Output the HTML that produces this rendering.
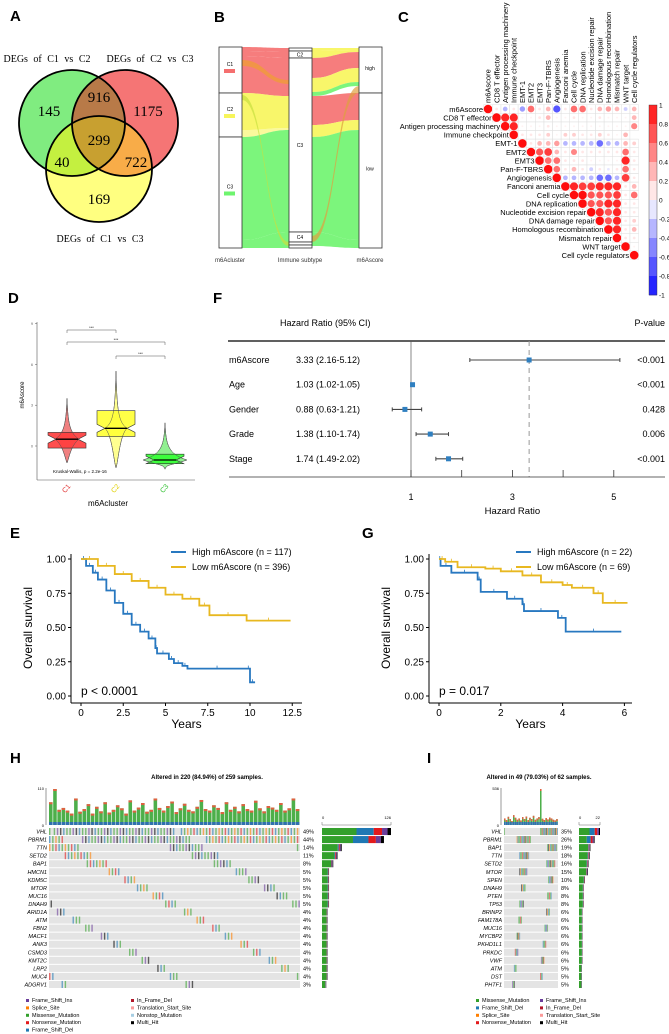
<!DOCTYPE html>
<html><head><meta charset="utf-8"><style>
html,body{margin:0;padding:0;background:#fff}
svg{display:block;font-family:"Liberation Sans",sans-serif}
</style></head><body>
<svg id="s" width="669" height="1034" viewBox="0 0 669 1034">
<defs>
<clipPath id="cpG"><circle cx="72" cy="123" r="53"/></clipPath>
<clipPath id="cpR"><circle cx="125" cy="123" r="53"/></clipPath>
</defs>
<g font-weight="bold" font-size="15">
<text x="10" y="21">A</text><text x="214" y="22">B</text><text x="398" y="22">C</text>
<text x="8" y="303">D</text><text x="213" y="303">F</text><text x="10" y="538">E</text>
<text x="362" y="538">G</text><text x="10" y="763">H</text><text x="427" y="763">I</text>
</g>
<g id="venn"></g>
<g id="alluvial"></g>
<g id="corr"></g>
<g id="violin"></g>
<g id="forest"></g>
<g id="kmE"></g>
<g id="kmG"></g>
<g id="oncoH"></g>
<g id="oncoI"></g>
</svg>
<script>
const vennCounts=[145,916,1175,299,40,722,169];
const corrLabels=["m6Ascore","CD8 T effector","Antigen processing machinery","Immune checkpoint","EMT-1","EMT2","EMT3","Pan-F-TBRS","Angiogenesis","Fanconi anemia","Cell cycle","DNA replication","Nucleotide excision repair","DNA damage repair","Homologous recombination","Mismatch repair","WNT target","Cell cycle regulators"];
const corrRows=[
[1,.1,-.3,.1,-.4,.6,.1,.3,-.7,.1,.6,.6,.1,.3,.4,.3,-.2,.3],
[1,.9,.9,.05,.05,.1,.3,.05,.05,.1,.05,.05,.1,.05,.05,.05,.3],
[1,.9,.05,.05,.05,.1,.05,.05,.05,.05,.05,.05,.05,.05,.05,.5],
[1,.1,.1,.1,.2,.05,.2,.2,.1,.1,.2,.1,.05,.3],
[1,.1,.3,.3,.4,-.3,-.3,-.3,-.3,-.6,-.3,-.3,.3,.2],
[1,.7,.8,.3,.1,.5,.1,.1,.1,.1,.1,.6,.1],
[1,.6,.6,.1,.1,.1,.05,.05,.05,.05,.9,.1],
[1,.6,.1,.3,.1,-.2,.1,-.1,.1,.6,.1],
[1,-.3,-.3,-.3,-.3,-.6,-.6,-.3,.8,.1],
[1,.9,.8,.8,.9,.9,.9,.1,.3],
[1,1,.7,.7,.7,.8,.1,.6],
[1,.7,.7,.9,.9,.1,.1],
[1,.9,.7,.9,.1,.1],
[1,.7,.9,.1,.2],
[1,.9,.1,.3],
[1,.1,.1],
[1,.05],
[1]];
const colorbarTicks=[1,0.8,0.6,0.4,0.2,0,-0.2,-0.4,-0.6,-0.8,-1];
const violinGroups=["C1","C2","C3"];
const violinMedian=[0.5,1.3,-1.03];
const violinQ1=[-0.15,0.7,-1.3];
const violinQ3=[1.0,2.6,-0.6];
const violinMax=[3.5,5.5,1.7];
const violinMin=[-1.25,-1.6,-1.7];
const forestVars=["m6Ascore","Age","Gender","Grade","Stage"];
const forestHR=[3.33,1.03,0.88,1.38,1.74];
const forestLo=[2.16,1.02,0.63,1.10,1.49];
const forestHi=[5.12,1.05,1.21,1.74,2.02];
const forestP=["<0.001","<0.001","0.428","0.006","<0.001"];
const forestTicks=[1,2,3,4,5];
const forestTickLabels=[1,3,5];
const kmEHighT=[0,0.3,0.7,1,1.5,2,2.5,3,3.5,4,4.4,4.5,5.2,5.5,6,6.3,9.8,10,10.3];
const kmEHighS=[1,.95,.9,.85,.77,.68,.6,.52,.47,.42,.35,.31,.27,.24,.22,.2,.2,.1,.1];
const kmELowT=[0,1,2,3,4,5,6,7,7.6,9.8,12.4];
const kmELowS=[1,.95,.89,.84,.79,.74,.71,.66,.59,.55,.55];
const kmGHighT=[0,0.05,0.4,1.25,1.35,2.2,2.7,2.75,3.85,4.1,5.9];
const kmGHighS=[1,.95,.9,.85,.76,.71,.67,.62,.57,.47,.47];
const kmGLowT=[0,0.2,0.6,1.5,2,2.7,3.3,4,4.3,5,5.3,6.1];
const kmGLowS=[1,.98,.94,.93,.91,.88,.83,.81,.79,.75,.68,.68];
const kmYTicks=[0,0.25,0.5,0.75,1];
const kmEXTicks=[0,2.5,5,7.5,10,12.5];
const kmGXTicks=[0,2,4,6];
const genesH=["VHL","PBRM1","TTN","SETD2","BAP1","HMCN1","KDM5C","MTOR","MUC16","DNAH9","ARID1A","ATM","FBN2","MACF1","ANK3","CSMD3","KMT2C","LRP2","MUC4","ADGRV1"];
const pctH=[49,44,14,11,8,5,5,5,5,5,4,4,4,4,4,4,4,4,4,3];
const genesI=["VHL","PBRM1","BAP1","TTN","SETD2","MTOR","SPEN","DNAH9","PTEN","TP53","BRINP2","FAM178A","MUC16","MYCBP2","PKHD1L1","PRKDC","VWF","ATM","DST","PHTF1"];
const pctI=[35,26,19,18,16,15,10,8,8,8,6,6,6,6,6,6,6,5,5,5];
const tmbH=[60,95,40,45,38,30,70,35,42,55,30,48,36,60,33,40,52,44,30,65,38,46,58,35,40,70,45,38,50,62,34,44,56,40,36,48,66,42,38,52,45,34,60,40,48,36,55,42,38,64,44,36,50,46,40,58,38,44,70,42];
const tmbI=[20,15,25,18,12,30,22,16,20,14,24,18,26,15,22,18,28,16,20,24,110,19,15,21,17,23,20,16,14,18];
</script>
<script>
const NS="http://www.w3.org/2000/svg";
function mk(p,t,a,txt){const e=document.createElementNS(NS,t);for(const k in a)e.setAttribute(k,a[k]);if(txt!==undefined)e.textContent=txt;p.appendChild(e);return e;}
const $=id=>document.getElementById(id);

// ---- A Venn
(function(){const g=$('venn');const r=53;
const G=[72,123],R=[125,123],Y=[99,169];
function circ(p,c,fill,extra){const e=mk(p,'circle',Object.assign({cx:c[0],cy:c[1],r:r,fill:fill},extra||{}));return e;}
circ(g,G,'#80ec80');circ(g,R,'#f57575');circ(g,Y,'#ffff80');
circ(g,R,'#b87a48',{'clip-path':'url(#cpG)'});
circ(g,Y,'#c4f040',{'clip-path':'url(#cpG)'});
circ(g,Y,'#f8ac48',{'clip-path':'url(#cpR)'});
const gg=mk(g,'g',{'clip-path':'url(#cpG)'});circ(gg,Y,'#c8a030',{'clip-path':'url(#cpR)'});
[G,R,Y].forEach(c=>{const e=mk(g,'circle',{cx:c[0],cy:c[1],r:r,fill:'none',stroke:'#000','stroke-width':1.8});});
const pos=[[49,116],[99,102],[148,116],[99,145],[62,167],[136,167],[99,204]];
vennCounts.forEach((v,i)=>{const t=mk(g,'text',{x:pos[i][0],y:pos[i][1],'text-anchor':'middle','font-size':15,'font-family':'Liberation Serif,serif'},v);});
[['DEGs of C1 vs C2',47,62],['DEGs of C2 vs C3',150,62],['DEGs of C1 vs C3',100,242]].forEach(d=>{const t=mk(g,'text',{x:d[1],y:d[2],'text-anchor':'middle','font-size':10,'font-family':'Liberation Serif,serif','word-spacing':'3'},d[0]);});
})();

// ---- B alluvial
(function(){const g=$('alluvial');
function band(x1,a1,b1,x2,a2,b2,col,op){const m=(x1+x2)/2;
const e=mk(g,'path',{d:`M${x1},${a1}C${m},${a1} ${m},${a2} ${x2},${a2}L${x2},${b2}C${m},${b2} ${m},${b1} ${x1},${b1}Z`,fill:col,'fill-opacity':op||0.9});
}
const R='#f56f6f',Y='#f7f55a',G='#6ef46e';
band(242,47,52,289,48,51,R);band(242,52,56,289,51,58,R);
band(242,56,93,289,58,96,R);band(242,93,130,289,96,128,Y);
band(242,130,137,289,128,130,Y,0.6);band(242,137,240,289,130,232,G);
band(242,240,248,289,232,248,G);
band(242,60,66,289,80,84,'#f0a030',0.7);band(242,95,100,289,242,246,'#c8e040',0.7);
band(312,48,51,359,48,50,Y);band(312,51,58,359,50,52,Y);
band(312,58,78,359,52,68,R);band(312,78,92,359,68,82,Y);band(312,92,96,359,82,86,G);
band(312,96,125,359,93,120,R);band(312,125,137,359,120,130,Y);
band(312,137,232,359,130,240,G);band(312,232,246,359,240,248,G);
band(312,236,242,359,86,93,'#e0a040',0.7);
[[219,47,93,'C1',R],[219,93,137,'C2',Y],[219,137,248,'C3',G]].forEach(b=>{
const r=mk(g,'rect',{x:b[0],y:b[1],width:23,height:b[2]-b[1],fill:'#fff',stroke:'#333','stroke-width':0.8});
mk(g,'text',{x:230,y:(b[1]+b[2])/2-4,'font-size':5,'text-anchor':'middle'},b[3]);
mk(g,'rect',{x:224,y:(b[1]+b[2])/2-1,width:11,height:4,fill:b[4]});});
[[48,51,'C1'],[51,58,'C2'],[58,232,'C3'],[232,242,'C4'],[242,245,'C6'],[245,248,'C5']].forEach(b=>{
const r=mk(g,'rect',{x:289,y:b[0],width:23,height:b[1]-b[0],fill:'#fff',stroke:'#333','stroke-width':0.8});
if(b[1]-b[0]>3)mk(g,'text',{x:300,y:(b[0]+b[1])/2+2,'font-size':5,'text-anchor':'middle'},b[2]);});
[[47,93,'high'],[93,248,'low']].forEach(b=>{const r=mk(g,'rect',{x:359,y:b[0],width:23,height:b[1]-b[0],fill:'#fff',stroke:'#333','stroke-width':0.8});
mk(g,'text',{x:370,y:(b[0]+b[1])/2,'font-size':5,'text-anchor':'middle'},b[2]);});
[['m6Acluster',230],['Immune  subtype',300],['m6Ascore',370]].forEach(d=>{const t=mk(g,'text',{x:d[1],y:262,'font-size':6,'text-anchor':'middle',fill:'#333'},d[0]);});
})();

// ---- C correlation
(function(){const g=$('corr');const x0=488,y0=109,st=8.6;
function col(r){const a=Math.abs(r);if(r>=0)return `rgb(255,${Math.round(255*(1-a*0.95))},${Math.round(255*(1-a*0.95))})`;return `rgb(${Math.round(255*(1-a*0.95))},${Math.round(255*(1-a*0.95))},255)`;}
corrRows.forEach((row,i)=>{row.forEach((v,k)=>{const j=i+k;const cx=x0+j*st,cy=y0+i*st;
mk(g,'rect',{x:cx-st/2,y:cy-st/2,width:st,height:st,fill:'none',stroke:'#e2e2e2','stroke-width':0.5});
const c=mk(g,'circle',{cx:cx,cy:cy,r:Math.max(0.6,Math.sqrt(Math.abs(v))*4.3),fill:col(v)});
});
const t=mk(g,'text',{x:x0+i*st-5,y:y0+i*st+2.8,'text-anchor':'end','font-size':7.5},corrLabels[i]);
const c=mk(g,'text',{transform:`translate(${x0+i*st+2.7},${y0-6}) rotate(-90)`,'font-size':7.5},corrLabels[i]);});
const cb0=105,cb1=295;
for(let k=0;k<10;k++){const v=1-(k+0.5)*0.2;mk(g,'rect',{x:649,y:cb0+k*(cb1-cb0)/10,width:8,height:(cb1-cb0)/10+0.3,fill:col(v)});}
mk(g,'rect',{x:649,y:cb0,width:8,height:cb1-cb0,fill:'none',stroke:'#333','stroke-width':0.4});
colorbarTicks.forEach(v=>{const y=cb0+(1-v)/2*(cb1-cb0);const t=mk(g,'text',{x:659,y:y+2.5,'font-size':6.5},v);});
})();

// ---- D violin
(function(){const g=$('violin');const ys=v=>446-v*13.6;const xs=i=>67+i*49;
const fills=['#ff3b3b','#ffff33','#33ff33'],vf=['#f08080','#ffff90','#90f090'];
mk(g,'line',{x1:37,y1:322,x2:37,y2:480,stroke:'#555','stroke-width':0.6});
mk(g,'line',{x1:37,y1:480,x2:195,y2:480,stroke:'#555','stroke-width':0.6});
[0,3,6,9].forEach(v=>{mk(g,'line',{x1:35,y1:ys(v),x2:37,y2:ys(v),stroke:'#555','stroke-width':0.5});mk(g,'text',{x:33,y:ys(v)+1.5,'font-size':3.5,'text-anchor':'end',fill:'#555'},v);});
const yl=mk(g,'text',{transform:'translate(24,395) rotate(-90)','font-size':6,'text-anchor':'middle'},'m6Ascore');
violinGroups.forEach((gn,i)=>{const x=xs(i),mx=ys(violinMax[i]),mn=ys(violinMin[i]),md=ys(violinMedian[i]);
const w=[12,11,22][i];
const d=`M${x},${mx} C${x+1},${md-15} ${x+3},${md-6} ${x+w},${md} C${x+4},${md+6} ${x+2},${mn-5} ${x},${mn} C${x-2},${mn-5} ${x-4},${md+6} ${x-w},${md} C${x-3},${md-6} ${x-1},${md-15} ${x},${mx}Z`;
const v=mk(g,'path',{d:d,fill:vf[i],stroke:'#555','stroke-width':0.5});
const q1=ys(violinQ1[i]),q3=ys(violinQ3[i]);const hw=19,nw=11,nh=Math.min(4,(q1-q3)/2.5);
const b=mk(g,'path',{d:`M${x-hw},${q3}H${x+hw}V${md-nh}L${x+nw},${md}L${x+hw},${md+nh}V${q1}H${x-hw}V${md+nh}L${x-nw},${md}L${x-hw},${md-nh}Z`,fill:fills[i],stroke:'#333','stroke-width':0.6,'fill-opacity':0.9});
mk(g,'path',{d:d,fill:'none',stroke:'#555','stroke-width':0.5});
mk(g,'line',{x1:x-nw,y1:md,x2:x+nw,y2:md,stroke:'#000','stroke-width':1.3});
const t=mk(g,'text',{transform:`translate(${x+1},${490}) rotate(-50)`,'font-size':7,'text-anchor':'middle',fill:['#e03030','#e0d000','#30c030'][i]},gn);});
[[0,1,330],[0,2,342],[1,2,356]].forEach(b=>{mk(g,'path',{d:`M${xs(b[0])},${b[2]+3}V${b[2]}H${xs(b[1])}V${b[2]+3}`,fill:'none',stroke:'#555','stroke-width':0.5});mk(g,'text',{x:(xs(b[0])+xs(b[1]))/2,y:b[2]-1,'font-size':4,'text-anchor':'middle'},'***');});
mk(g,'text',{x:53,y:473,'font-size':4.5},'Kruskal-Wallis, p = 2.2e-16');
const xl=mk(g,'text',{x:108,y:506,'font-size':8,'text-anchor':'middle'},'m6Acluster');
})();

// ---- F forest
(function(){const g=$('forest');const xs=v=>411+(v-1)*50.7;const ry=i=>360+i*24.7;
mk(g,'text',{x:280,y:326,'font-size':9},'Hazard Ratio (95% CI)');mk(g,'text',{x:665,y:326,'font-size':9,'text-anchor':'end'},'P-value');
mk(g,'line',{x1:228,y1:341,x2:665,y2:341,stroke:'#000','stroke-width':1.2});
mk(g,'line',{x1:xs(1),y1:341,x2:xs(1),y2:477,stroke:'#555','stroke-width':0.7});
mk(g,'line',{x1:xs(forestHR[0]),y1:341,x2:xs(forestHR[0]),y2:477,stroke:'#999','stroke-width':1,'stroke-dasharray':'5,4'});
mk(g,'line',{x1:229,y1:477,x2:665,y2:477,stroke:'#333','stroke-width':0.8});
forestTicks.forEach(v=>{mk(g,'line',{x1:xs(v),y1:470,x2:xs(v),y2:477,stroke:'#333','stroke-width':0.8});});
forestTickLabels.forEach(v=>{const t=mk(g,'text',{x:xs(v),y:500,'font-size':9,'text-anchor':'middle'},v);});
const xt=mk(g,'text',{x:xs(3),y:514,'font-size':9.5,'text-anchor':'middle'},'Hazard Ratio');
forestVars.forEach((v,i)=>{const y=ry(i);
mk(g,'text',{x:229,y:y+3,'font-size':9},v);
mk(g,'text',{x:296,y:y+3,'font-size':9},`${forestHR[i].toFixed(2)} (${forestLo[i].toFixed(2)}-${forestHi[i].toFixed(2)})`);
mk(g,'text',{x:665,y:y+3,'font-size':9,'text-anchor':'end'},forestP[i]);
const l=mk(g,'line',{x1:xs(forestLo[i]),y1:y,x2:xs(forestHi[i]),y2:y,stroke:'#444','stroke-width':1.1});
mk(g,'line',{x1:xs(forestLo[i]),y1:y-2,x2:xs(forestLo[i]),y2:y+2,stroke:'#444','stroke-width':1});
mk(g,'line',{x1:xs(forestHi[i]),y1:y-2,x2:xs(forestHi[i]),y2:y+2,stroke:'#444','stroke-width':1});
const p=mk(g,'rect',{x:xs(forestHR[i])-2.5,y:y-2.5,width:5,height:5,fill:'#2f7fc0'});});
})();

// ---- KM
function km(g,x0,axX,pxPerUnit,xTicks,xAxisEnd,series,legendX,ptext){
const xs=t=>x0+t*pxPerUnit,ys=s=>696-s*137;
mk(g,'line',{x1:axX,y1:ys(1)-5,x2:axX,y2:703,stroke:'#000','stroke-width':1});
mk(g,'line',{x1:axX,y1:703,x2:xAxisEnd,y2:703,stroke:'#000','stroke-width':1});
kmYTicks.forEach(v=>{mk(g,'line',{x1:axX-3,y1:ys(v),x2:axX,y2:ys(v),stroke:'#000'});const t=mk(g,'text',{x:axX-5,y:ys(v)+3.5,'font-size':10,'text-anchor':'end'},v.toFixed(2));});
xTicks.forEach(v=>{mk(g,'line',{x1:xs(v),y1:703,x2:xs(v),y2:706,stroke:'#000'});const t=mk(g,'text',{x:xs(v),y:716,'font-size':10,'text-anchor':'middle'},v);});
const xt=mk(g,'text',{x:(axX+xAxisEnd)/2,y:728,'font-size':12,'text-anchor':'middle'},'Years');
const yt=mk(g,'text',{transform:`translate(${axX-39},628) rotate(-90)`,'font-size':12,'text-anchor':'middle'},'Overall survival');
series.forEach((s,k)=>{let d=`M${xs(s.t[0])},${ys(s.s[0])}`;for(let i=1;i<s.t.length;i++){d+=`H${xs(s.t[i])}V${ys(s.s[i])}`;}
const p=mk(g,'path',{d:d,fill:'none',stroke:s.c,'stroke-width':1.8});
for(let i=1;i<s.t.length;i++){const x=xs((s.t[i-1]+s.t[i])/2);mk(g,'line',{x1:x,y1:ys(s.s[i-1])-3,x2:x,y2:ys(s.s[i-1]),stroke:s.c,'stroke-width':0.8});}
mk(g,'line',{x1:legendX-21,y1:552+k*15,x2:legendX-6,y2:552+k*15,stroke:s.c,'stroke-width':2});
const lt=mk(g,'text',{x:legendX,y:555+k*15,'font-size':9},s.label);});
mk(g,'text',{x:x0,y:695,'font-size':12},ptext);}
km($('kmE'),81,71,16.9,kmEXTicks,302,[{t:kmEHighT,s:kmEHighS,c:'#2878c0',n:'high',label:'High m6Ascore (n = 117)'},{t:kmELowT,s:kmELowS,c:'#e8b820',n:'low',label:'Low m6Ascore (n = 396)'}],192,'p < 0.0001');
km($('kmG'),439,429,30.9,kmGXTicks,632,[{t:kmGHighT,s:kmGHighS,c:'#2878c0',n:'high',label:'High m6Ascore (n = 22)'},{t:kmGLowT,s:kmGLowS,c:'#e8b820',n:'low',label:'Low m6Ascore (n = 69)'}],537,'p = 0.017');

// ---- Oncoplots
const MC={mis:'#33a02c',fsd:'#1f78b4',non:'#e31a1c',fsi:'#6a3d9a',spl:'#ff7f00',ifd:'#b2182b',tss:'#fb9a99',nst:'#a6cee3',mh:'#000'};
function onco(g,o){
mk(g,'text',{x:o.tx,y:779,'font-size':6,'font-weight':'bold','text-anchor':'middle'},o.title);
const n=o.tmb.length,bw=(o.x1-o.x0)/n;const mx=Math.max(...o.tmb);
mk(g,'line',{x1:o.x0-3,y1:788,x2:o.x0-3,y2:825,stroke:'#333','stroke-width':0.5});
mk(g,'text',{x:o.x0-5,y:790,'font-size':4,'text-anchor':'end'},o.ymax);
mk(g,'text',{x:o.x0-5,y:827,'font-size':4,'text-anchor':'end'},'0');
o.tmb.forEach((v,i)=>{const h=v/mx*36;const b=mk(g,'rect',{x:o.x0+i*bw,y:825-h,width:bw*0.85,height:h,fill:'#4daf4a'});
mk(g,'rect',{x:o.x0+i*bw,y:825-h,width:bw*0.85,height:Math.min(2,h),fill:'#e06040'});
mk(g,'rect',{x:o.x0+i*bw,y:822,width:bw*0.85,height:3,fill:'#3070b0'});});
const rh=8.05,cols=o.cols,cw=(o.x1-o.x0)/cols;
o.genes.forEach((gn,r)=>{const y=828+r*rh;
mk(g,'rect',{x:o.x0,y:y,width:o.x1-o.x0,height:rh-1,fill:'#e4e4e4'});
const k=Math.round(o.pct[r]/100*cols);
for(let j=0;j<k;j++){const c=((j*7919+r*104729)%cols);const key=['mis','mis','mis','fsd','non','fsi','spl','mis','fsd','mh'][(j*3+r)%10];
const m=mk(g,'rect',{x:o.x0+c*cw,y:y,width:cw*0.9,height:rh-1,fill:MC[key],'fill-opacity':0.6});}
const t=mk(g,'text',{x:o.x0-2,y:y+5.5,'font-size':5.5,'font-style':'italic','text-anchor':'end'},gn);
mk(g,'text',{x:o.x1+3,y:y+5.5,'font-size':5.5},o.pct[r]+'%');
const bl=o.pct[r]/o.pct[0]*o.bw;const segs=[['mis',.5],['fsd',.25],['non',.12],['fsi',.08],['mh',.05]];let xx=o.bx;
segs.forEach(s=>{const w=r<2?bl*s[1]:(s[0]=='mis'?bl*0.8:bl*0.05);const e=mk(g,'rect',{x:xx,y:y,width:w,height:rh-1,fill:MC[s[0]]});xx+=w;});});
mk(g,'text',{x:o.bx,y:819,'font-size':4},'0');mk(g,'text',{x:o.bx+o.bw,y:819,'font-size':4,'text-anchor':'end'},o.bmax);
mk(g,'path',{d:`M${o.bx},822V825H${o.bx+o.bw}V822`,fill:'none',stroke:'#666','stroke-width':0.5});
o.legend.forEach((l,i)=>{const x=o.lx+Math.floor(i/o.lrows)*o.lcw,y=1002+(i%o.lrows)*7.4;mk(g,'rect',{x:x,y:y-3,width:3,height:3,fill:MC[l[1]]});const t=mk(g,'text',{x:x+6,y:y,'font-size':5.5},l[0]);});}
onco($('oncoH'),{x0:49,x1:300,tx:207,title:'Altered in 220 (84.94%) of 259 samples.',tmb:tmbH,ymax:110,cols:160,genes:genesH,pct:pctH,bx:322,bw:69,bmax:126,lx:26,lrows:5,lcw:105,
legend:[['Frame_Shift_Ins','fsi'],['Splice_Site','spl'],['Missense_Mutation','mis'],['Nonsense_Mutation','non'],['Frame_Shift_Del','fsd'],['In_Frame_Del','ifd'],['Translation_Start_Site','tss'],['Nonstop_Mutation','nst'],['Multi_Hit','mh']]});
onco($('oncoI'),{x0:504,x1:558,tx:539,title:'Altered in 49 (79.03%) of 62 samples.',tmb:tmbI,ymax:536,cols:60,genes:genesI,pct:pctI,bx:579,bw:21,bmax:22,lx:476,lrows:4,lcw:64,
legend:[['Missense_Mutation','mis'],['Frame_Shift_Del','fsd'],['Splice_Site','spl'],['Nonsense_Mutation','non'],['Frame_Shift_Ins','fsi'],['In_Frame_Del','ifd'],['Translation_Start_Site','tss'],['Multi_Hit','mh']]});
</script>
</body></html>
